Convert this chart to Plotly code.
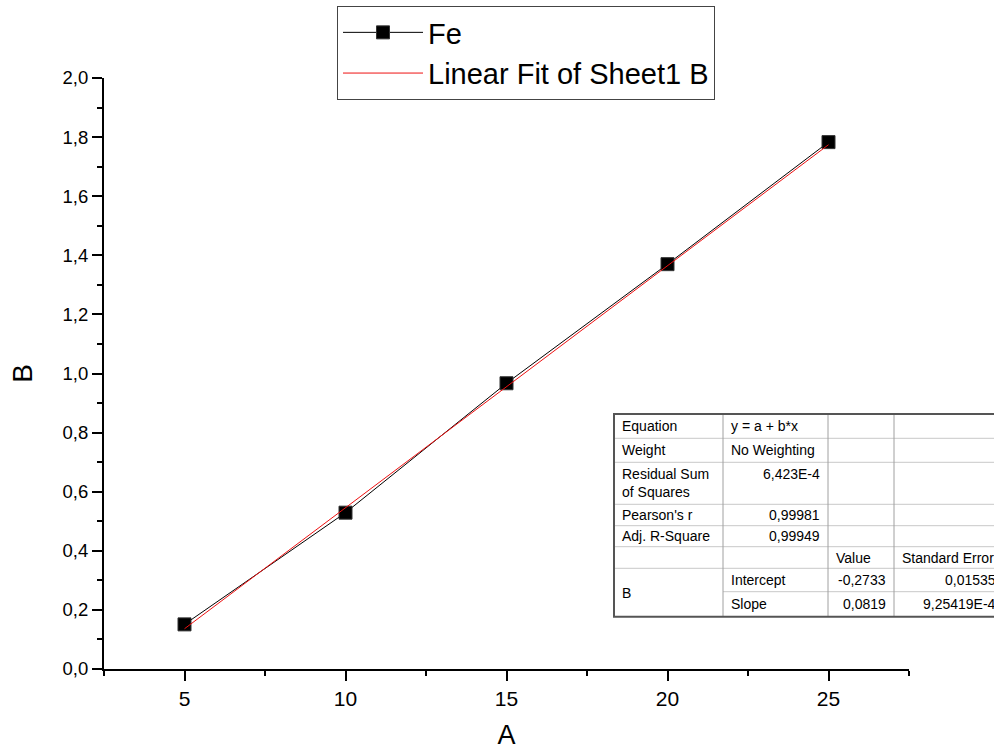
import plotly.graph_objects as go

# ---------------- data ----------------
A = [5, 10, 15, 20, 25]
B_fe = [0.151, 0.529, 0.967, 1.370, 1.783]
fit_A = [5, 25]
fit_B = [0.1362, 1.7742]

x_ticks = [5, 10, 15, 20, 25]
y_ticks = [0.0, 0.2, 0.4, 0.6, 0.8, 1.0, 1.2, 1.4, 1.6, 1.8, 2.0]

col1 = ["Equation", "Weight", "Residual Sum<br>of Squares", "Pearson's r", "Adj. R-Square", "", "B", ""]
col2 = ["y = a + b*x", "No Weighting", "6,423E-4", "0,99981", "0,99949", "", "Intercept", "Slope"]
col3 = ["", "", "", "", "", "Value", "-0,2733", "0,0819"]
col4 = ["", "", "", "", "", "Standard Error", "0,01535", "9,25419E-4"]

# ---------------- layout geometry (pixels) ----------------
W, H = 994, 753
ML, MR, MT, MB = 104, 85, 78, 84
PW, PH = W - ML - MR, H - MT - MB


def px(x):
    return (x - ML) / PW


def py(y):
    return (H - MB - y) / PH


FONT = "Liberation Sans, Arial, sans-serif"

fig = go.Figure()
fig.add_trace(go.Scatter(
    x=A, y=B_fe, name="Fe", mode="lines+markers",
    line=dict(color="black", width=1),
    marker=dict(symbol="square", size=13, color="black",
                line=dict(color="#333", width=1)),
))
fig.add_trace(go.Scatter(
    x=fit_A, y=fit_B, name="Linear Fit of Sheet1 B", mode="lines",
    line=dict(color="#ee1111", width=1),
))

axis_common = dict(
    showline=True, linecolor="black", linewidth=2, mirror=False,
    showgrid=False, zeroline=False, automargin=False,
    ticks="outside", ticklen=10, tickwidth=2, tickcolor="black",
)

fig.update_xaxes(
    range=[2.5, 27.5], tickvals=x_ticks, ticktext=[str(v) for v in x_ticks],
    tickfont=dict(family=FONT, size=21, color="black"),
    minor=dict(ticks="outside", ticklen=5, tickwidth=2, tickcolor="black",
               dtick=2.5, tick0=2.5),
    title=dict(text="A", font=dict(family=FONT, size=27, color="black"), standoff=16),
    **axis_common,
)
fig.update_yaxes(
    range=[0, 2.0], tickvals=y_ticks, tickformat=".1f",
    tickfont=dict(family=FONT, size=18.5, color="black"),
    minor=dict(ticks="outside", ticklen=5, tickwidth=2, tickcolor="black",
               dtick=0.1, tick0=0),
    title=dict(text="B", font=dict(family=FONT, size=28, color="black"), standoff=22),
    **axis_common,
)

# ---------------- fit table ----------------
row_edges = [414, 438.3, 462.3, 504.3, 525.7, 546.7, 568.3, 591.7, 616.7]
col_edges = [614, 723, 828, 894, 1004]

shapes = []
annotations = []
TF = dict(family=FONT, size=14, color="black")

shapes.append(dict(type="rect", xref="paper", yref="paper",
                   x0=px(col_edges[0]), x1=px(col_edges[-1]),
                   y0=py(row_edges[-1]), y1=py(row_edges[0]),
                   fillcolor="white", line=dict(width=0), layer="above"))
# horizontal inner lines
for i in range(1, len(row_edges) - 1):
    x_start = col_edges[0]
    if i == 7:
        x_start = col_edges[1]  # merged "B" cell
    shapes.append(dict(type="line", xref="paper", yref="paper",
                       x0=px(x_start), x1=px(col_edges[-1]),
                       y0=py(row_edges[i]), y1=py(row_edges[i]),
                       line=dict(color="#c8c8c8", width=1), layer="above"))
# vertical inner lines
for j in range(1, len(col_edges) - 1):
    shapes.append(dict(type="line", xref="paper", yref="paper",
                       x0=px(col_edges[j]), x1=px(col_edges[j]),
                       y0=py(row_edges[-1]), y1=py(row_edges[0]),
                       line=dict(color="#a0a0a0", width=1), layer="above"))
# outer border
shapes.append(dict(type="rect", xref="paper", yref="paper",
                   x0=px(col_edges[0]), x1=px(col_edges[-1]),
                   y0=py(row_edges[-1]), y1=py(row_edges[0]),
                   line=dict(color="#555555", width=2), layer="above"))


def cell_text(text, r, c, align, valign="middle", rows=1):
    if not text:
        return
    x0, x1 = col_edges[c], col_edges[c + 1]
    y0, y1 = row_edges[r], row_edges[r + rows]
    if align == "left":
        xp, xa = x0 + 6, "left"
    else:
        xp, xa = x1 - 6, "right"
    if valign == "middle":
        yp, ya = (y0 + y1) / 2, "middle"
    else:
        yp, ya = y0 + 2, "top"
    annotations.append(dict(text=text, xref="paper", yref="paper",
                            x=px(xp), y=py(yp), xanchor=xa, yanchor=ya,
                            showarrow=False, font=TF, align="left"))


for r in range(8):
    if r == 6:
        cell_text(col1[r], r, 0, "left", rows=2)
    elif r != 7:
        cell_text(col1[r], r, 0, "left")
    a2 = "left" if r in (0, 1, 6, 7) else "right"
    cell_text(col2[r], r, 1, a2, valign="top" if r == 2 else "middle")
    a3 = "left" if r == 5 else "right"
    cell_text(col3[r], r, 2, a3)
    cell_text(col4[r], r, 3, a3)

fig.update_layout(
    width=W, height=H,
    margin=dict(l=ML, r=MR, t=MT, b=MB, pad=0, autoexpand=False),
    paper_bgcolor="white", plot_bgcolor="white",
    separators=",.",
    font=dict(family=FONT, color="black"),
    showlegend=True,
    legend=dict(x=px(337), y=py(6), xanchor="left", yanchor="top",
                xref="paper", yref="paper",
                bordercolor="#444", borderwidth=1, bgcolor="white",
                font=dict(family=FONT, size=29, color="black"),
                tracegroupgap=0, itemwidth=80),
    shapes=shapes,
    annotations=annotations,
)

fig.write_html("out.html")
